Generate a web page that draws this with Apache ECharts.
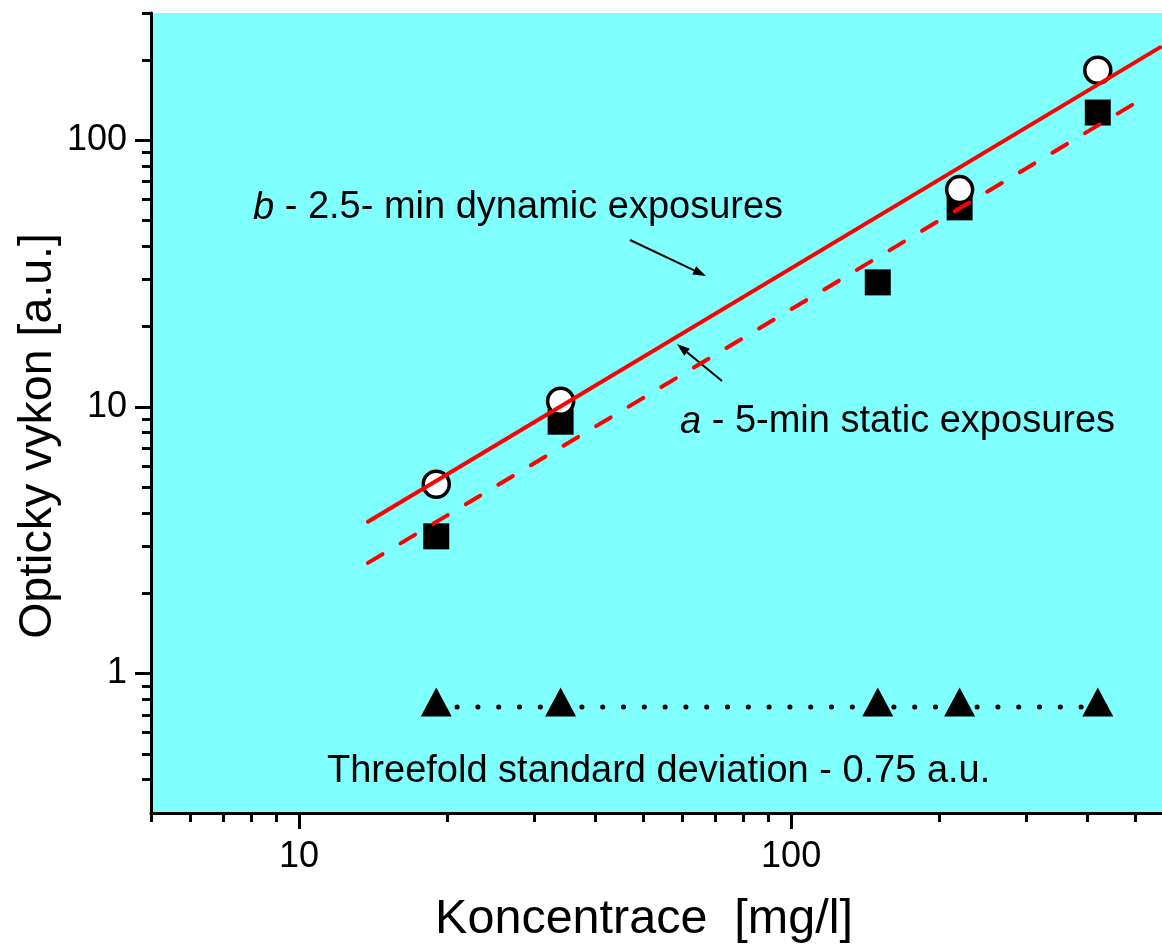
<!DOCTYPE html>
<html lang="cs">
<head>
  <meta charset="UTF-8">
  <title>Opticky vykon</title>
  <script type="text/javascript" src="https://cdn.jsdelivr.net/npm/echarts@6/dist/echarts.min.js"></script>
  <style>
    html, body { margin: 0; padding: 0; background: #fff; }
    #chart { width: 1162px; height: 946px; }
  </style>
</head>
<body>
  <div id="chart"></div>
  <script type="text/javascript">
    // concentrations [mg/l]
    var konc = [19, 34, 150, 220, 420];
    // a - 5-min static exposures (squares)
    var staticVals = [3.27, 8.8, 29.3, 56, 127];
    // b - 2.5-min dynamic exposures (circles), no point at 150
    var dynKonc = [19, 34, 220, 420];
    var dynVals = [5.13, 10.5, 65.3, 183];
    // threefold standard deviation
    var limitVal = 0.75;
    // fitted lines (end points)
    var fitB = [[13.8, 3.71], [562, 223]];
    var fitA = [[13.8, 2.6], [527, 146]];

    var xMajor = [10, 100];
    var xMinor = [5, 6, 7, 8, 9, 20, 30, 40, 50, 60, 70, 80, 90, 200, 300, 400, 500];
    var yMajor = [1, 10, 100];
    var yMinor = [0.4, 0.5, 0.6, 0.7, 0.8, 0.9, 2, 3, 4, 5, 6, 7, 8, 9,
                  20, 30, 40, 50, 60, 70, 80, 90, 200, 300];

    var FONT = 'Liberation Sans, Arial, Helvetica, sans-serif';

    var myChart = echarts.init(document.getElementById('chart'), null, {
      width: 1162,
      height: 946
    });

    function pairs(xs, ys) {
      return xs.map(function (x, i) { return [x, ys[i]]; });
    }

    // simple arrow: line + filled head
    function arrow(x1, y1, x2, y2) {
      var dx = x2 - x1, dy = y2 - y1;
      var len = Math.sqrt(dx * dx + dy * dy);
      var ux = dx / len, uy = dy / len;
      var bx = x2 - 13 * ux, by = y2 - 13 * uy;
      var nx = -uy, ny = ux;
      return [{
        type: 'line',
        shape: { x1: x1, y1: y1, x2: bx, y2: by },
        style: { stroke: '#000', lineWidth: 2 }
      }, {
        type: 'polygon',
        shape: { points: [[x2, y2], [bx + 4.5 * nx, by + 4.5 * ny], [bx - 4.5 * nx, by - 4.5 * ny]] },
        style: { fill: '#000' }
      }];
    }

    var axisBase = {
      type: 'log',
      logBase: 10,
      splitLine: { show: false },
      minorTick: { show: false }
    };

    var option = {
      animation: false,
      backgroundColor: '#fff',
      grid: {
        left: 151,
        top: 13,
        width: 1023,
        height: 800,
        outerBoundsMode: 'none',
        containLabel: false,
        show: true,
        backgroundColor: '#80ffff',
        borderWidth: 0
      },
      xAxis: [
        Object.assign({}, axisBase, {
          position: 'bottom',
          min: 5,
          max: 600,
          axisLine: { onZero: false, lineStyle: { color: '#000', width: 3 } },
          axisTick: { customValues: xMajor, length: 16, lineStyle: { color: '#000', width: 3 } },
          axisLabel: {
            customValues: xMajor, color: '#000', fontSize: 36, fontFamily: FONT, margin: 26
          }
        }),
        Object.assign({}, axisBase, {
          position: 'bottom',
          min: 5,
          max: 600,
          axisLine: { show: false, onZero: false },
          axisTick: { customValues: xMinor, length: 9, lineStyle: { color: '#000', width: 3 } },
          axisLabel: { show: false }
        })
      ],
      yAxis: [
        Object.assign({}, axisBase, {
          position: 'left',
          min: 0.3,
          max: 300,
          axisLine: { onZero: false, lineStyle: { color: '#000', width: 3 } },
          axisTick: { customValues: yMajor, length: 16, lineStyle: { color: '#000', width: 3 } },
          axisLabel: {
            customValues: yMajor, color: '#000', fontSize: 36, fontFamily: FONT, margin: 24
          }
        }),
        Object.assign({}, axisBase, {
          position: 'left',
          min: 0.3,
          max: 300,
          axisLine: { show: false, onZero: false },
          axisTick: { customValues: yMinor, length: 9, lineStyle: { color: '#000', width: 3 } },
          axisLabel: { show: false }
        })
      ],
      series: [
        {
          name: 'a - 5-min static exposures',
          type: 'scatter',
          data: pairs(konc, staticVals),
          symbol: 'rect',
          symbolSize: 26,
          itemStyle: { color: '#000', opacity: 1 },
          z: 3
        },
        {
          name: 'b - 2.5-min dynamic exposures',
          type: 'scatter',
          data: pairs(dynKonc, dynVals),
          symbol: 'circle',
          symbolSize: 26,
          itemStyle: { color: '#fff', borderColor: '#000', borderWidth: 3.5, opacity: 1 },
          z: 3
        },
        {
          name: 'fit a',
          type: 'line',
          data: fitA,
          symbol: 'none',
          lineStyle: { color: '#ff0000', width: 4, type: [17, 21], cap: 'round' },
          z: 4
        },
        {
          name: 'fit b',
          type: 'line',
          data: fitB,
          symbol: 'none',
          lineStyle: { color: '#ff0000', width: 4, cap: 'round' },
          z: 4
        },
        {
          name: 'Threefold standard deviation',
          type: 'line',
          data: konc.map(function (k) { return [k, limitVal]; }),
          symbol: 'triangle',
          symbolSize: [31, 29],
          symbolOffset: [0, -5],
          itemStyle: { color: '#000' },
          lineStyle: { color: '#000', width: 5, type: [0.1, 20.7], cap: 'round' },
          z: 3
        }
      ],
      graphic: [
        {
          type: 'text',
          x: 253, y: 208,
          style: {
            text: '{i|b} - 2.5- min dynamic exposures',
            fill: '#000', fontSize: 38, fontFamily: FONT,
            textAlign: 'left', textVerticalAlign: 'middle',
            rich: { i: { fontStyle: 'italic', fontSize: 38, fontFamily: FONT } }
          }
        },
        {
          type: 'text',
          x: 680, y: 422,
          style: {
            text: '{i|a} - 5-min static exposures',
            fill: '#000', fontSize: 38, fontFamily: FONT,
            textAlign: 'left', textVerticalAlign: 'middle',
            rich: { i: { fontStyle: 'italic', fontSize: 38, fontFamily: FONT } }
          }
        },
        {
          type: 'text',
          x: 327, y: 772,
          style: {
            text: 'Threefold standard deviation - 0.75 a.u.',
            fill: '#000', fontSize: 38, fontFamily: FONT,
            textAlign: 'left', textVerticalAlign: 'middle'
          }
        },
        {
          type: 'text',
          x: 644, y: 920,
          style: {
            text: 'Koncentrace  [mg/l]',
            fill: '#000', fontSize: 48.5, fontFamily: FONT,
            textAlign: 'center', textVerticalAlign: 'middle'
          }
        },
        {
          type: 'text',
          x: 38, y: 436,
          rotation: Math.PI / 2,
          style: {
            text: 'Opticky vykon [a.u.]',
            fill: '#000', fontSize: 46.5, fontFamily: FONT,
            textAlign: 'center', textVerticalAlign: 'middle'
          }
        }
      ].concat(arrow(630, 240, 706, 276), arrow(722, 381, 677, 344))
    };

    myChart.setOption(option);
  </script>
</body>
</html>
